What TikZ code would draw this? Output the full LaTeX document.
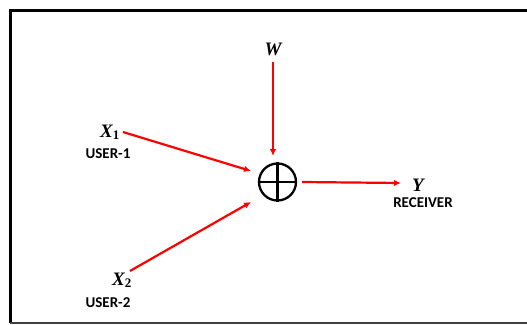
\documentclass[tikz,border=0pt]{standalone}
\usepackage{fontspec}
\setmainfont{Liberation Serif}
\newfontfamily\lblfont{Carlito}
\usetikzlibrary{arrows.meta}
\begin{document}
\begin{tikzpicture}[x=1pt,y=-1pt,
  sym/.style={font=\fontsize{19}{19}\selectfont\itshape\bfseries, inner sep=0pt},
  lbl/.style={font=\lblfont\fontsize{15}{15}\selectfont\bfseries, inner sep=0pt},
  conn/.style={red, line width=2.2pt, -{Latex[length=7pt,width=6.5pt]}}]
\useasboundingbox (0,0) rectangle (527,324);
\fill[white] (0,0) rectangle (527,324);
\draw[line width=3pt] (530,10) -- (10,10) -- (10,322.5);
\draw[line width=2pt, black!75] (10,322.5) -- (530,322.5);
% adder
\node[circle, draw, line width=2.3pt, minimum size=37pt, inner sep=0pt] (sum) at (277.5,182) {};
\draw[line width=2.3pt] (sum.north) -- (sum.south) (sum.west) -- (sum.east);
% labels
\node[sym] (w) at (273,49) {W};
\node[sym, anchor=base] (x1) at (110,137) {X\textsubscript{\normalfont\bfseries\fontsize{13}{13}\selectfont 1}};
\node[lbl] (u1) at (108,154) {USER-1};
\node[sym, anchor=base] (x2) at (122,285) {X\textsubscript{\normalfont\bfseries\fontsize{13}{13}\selectfont 2}};
\node[lbl] (u2) at (108,303) {USER-2};
\node[sym, anchor=base] (y) at (418,191) {Y};
\node[lbl] (rx) at (423,203) {RECEIVER};
\coordinate (wa) at (273,62);
\coordinate (wb) at (273,156);
\coordinate (x1a) at (123,132);
\coordinate (x1b) at (251,171);
\coordinate (x2a) at (130,271);
\coordinate (x2b) at (251,202);
\coordinate (ya) at (302,182);
\coordinate (yb) at (401,183);
% connectors
\draw[conn] (wa) -- (wb);
\draw[conn] (x1a) -- (x1b);
\draw[conn] (x2a) -- (x2b);
\draw[conn] (ya) -- (yb);
\end{tikzpicture}
\end{document}
